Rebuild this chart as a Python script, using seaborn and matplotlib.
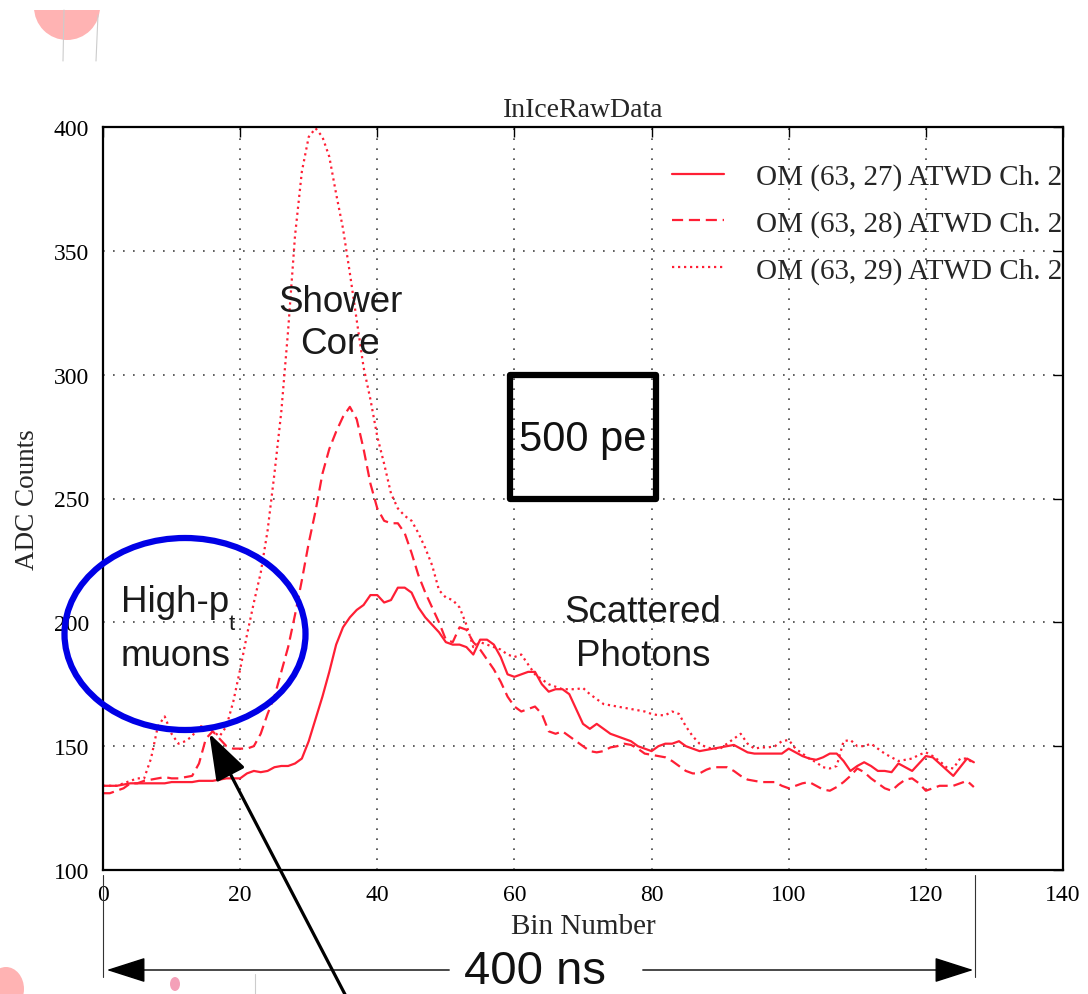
import numpy as np
import pandas as pd
import matplotlib
matplotlib.use("Agg")
import matplotlib.pyplot as plt
import seaborn as sns
from matplotlib.patches import Ellipse, Rectangle, FancyArrowPatch
from matplotlib.lines import Line2D

# ATWD channel-2 waveforms, 128 samples each
bins = np.arange(128)

om27 = [134, 134, 134, 134.5, 135, 135, 135, 135, 135, 135,
        135.5, 135.5, 135.5, 135.5, 136, 136, 136, 136.5, 137, 137,
        137, 139, 140, 139.5, 140, 141.5, 142, 142, 143, 145,
        152, 161, 170, 180, 191, 198, 202, 205, 207, 211,
        211, 208, 209, 214, 214, 212, 206, 202, 199, 196,
        192, 191, 191, 190, 187, 193, 193, 191, 186, 179,
        178, 179, 180, 180, 175, 172, 173, 173, 171, 165,
        159, 157, 159, 157, 155, 154, 153, 152, 150, 149,
        148, 150, 151, 151, 152, 150, 149, 148, 148.5, 149,
        149.5, 150, 150.5, 149, 147.5, 147, 147, 147, 147, 147,
        149, 147.5, 146, 145, 144.5, 145.5, 147, 147, 144, 140,
        142, 143.5, 142, 140, 140, 139.5, 143, 141.5, 140, 143,
        146, 145.5, 143, 140.5, 138, 141.5, 145, 143.5]

om28 = [131, 131, 132, 133, 135, 135, 136, 136.5, 137, 137.5,
        137, 137, 137.5, 138, 143, 153, 156, 153, 150, 149,
        149, 149, 150, 155, 163, 170, 180, 190, 203, 217,
        232, 245, 260, 270, 277, 283, 287, 282, 270, 256,
        246, 241, 240, 240, 236, 228, 219, 212, 206, 200,
        193, 192, 198, 197, 192, 189, 185, 181, 176, 170,
        166, 164, 165, 166, 163, 156, 155, 156, 154, 152,
        150, 148, 147.5, 148, 149.5, 150, 151, 150.5, 149, 147,
        146.5, 146, 145.5, 144, 142, 140, 139, 139, 140.5, 141.5,
        141.5, 141.5, 140, 138, 136.5, 136, 135.5, 135.5, 135.5, 134,
        133, 134, 135, 135.5, 134, 132.5, 132, 133.5, 135.5, 138,
        141, 139.5, 137, 135, 133, 132, 134.5, 136.5, 137, 135,
        132, 133, 134, 134, 134, 135, 136, 133.5]

om29 = [134, 134, 134, 135, 136, 137, 137, 145, 158, 162,
        155, 151, 152, 154, 158, 158, 156, 154, 158, 168,
        181, 195, 208, 220, 237, 260, 285, 318, 356, 382,
        396, 399.5, 396, 388, 373, 359, 341, 322, 303, 290,
        275, 264, 252, 246, 243, 241, 236, 230, 223, 213,
        210, 209, 206, 199, 190, 192, 191, 190, 189, 187,
        186, 187, 183, 179, 177, 175, 174, 173, 173, 173,
        173.5, 171, 169, 167, 166.5, 166, 165.5, 165, 164.5, 164,
        163, 162.5, 162.5, 164, 163, 158, 154, 151, 149.5, 149,
        149, 151, 153, 155, 151, 149, 149.5, 149.5, 150, 152,
        152.5, 149, 147, 145, 143.5, 141.5, 141, 142, 152, 152.5,
        150, 150, 151, 149, 147, 145.5, 144, 144.5, 145, 146.5,
        147.5, 146, 144, 141.5, 141, 145, 145, 143]

labels = ["OM (63, 27) ATWD Ch. 2",
          "OM (63, 28) ATWD Ch. 2",
          "OM (63, 29) ATWD Ch. 2"]

x_ticks = [0, 20, 40, 60, 80, 100, 120, 140]
y_ticks = [100, 150, 200, 250, 300, 350, 400]

sns.set_style("white")
plt.rcParams['font.family'] = ['Liberation Serif', 'DejaVu Serif']

W, H = 1088, 995
fig = plt.figure(figsize=(W / 100, H / 100), dpi=100)
ax = fig.add_axes([103 / W, 1 - 871 / H, 960 / W, 743 / H])

RED = "#ff1f35"
dash_patterns = [None, (5, 2.6), (1, 1.7)]
for vals, lab, dp in zip([om27, om28, om29], labels, dash_patterns):
    sns.lineplot(x=bins, y=vals, ax=ax, color=RED, linewidth=1.6, label=lab)
    if dp is not None:
        ax.lines[-1].set_dashes(dp)

ax.set_xlim(0, 140)
ax.set_ylim(100, 400)
ax.set_xticks(x_ticks)
ax.set_yticks(y_ticks)
ax.tick_params(direction="in", length=7, width=1, top=True, right=True,
               labelsize=17, pad=10, colors="black")
for s in ax.spines.values():
    s.set_color("black")
    s.set_linewidth(1.6)
ax.grid(True, color="#444444", linewidth=1.2)
for gl in ax.get_xgridlines() + ax.get_ygridlines():
    gl.set_dashes((1, 5))

ax.set_xlabel("Bin Number", fontsize=21, labelpad=6)
ax.set_ylabel("ADC Counts", fontsize=19.5, labelpad=10)
ax.set_title("InIceRawData", fontsize=20, pad=8)

leg = ax.legend(loc="upper right", bbox_to_anchor=(1.0 + 10.7 / 960, 0.967), frameon=False,
                fontsize=21, handlelength=1.78, handletextpad=1.1,
                labelspacing=0.68, borderaxespad=0.0)


def fx(px):
    return px / W


def fy(py):
    return 1 - py / H


SANS = ["Liberation Sans", "DejaVu Sans"]
INK = "#1a1a1a"

# callouts
fig.text(fx(340), fy(302), "Shower", fontsize=26.5, family=SANS, ha="center", va="center", color=INK)
fig.text(fx(340), fy(345), "Core", fontsize=26.5, family=SANS, ha="center", va="center", color=INK)
fig.text(fx(643), fy(613), "Scattered", fontsize=26.5, family=SANS, ha="center", va="center", color=INK)
fig.text(fx(643), fy(657), "Photons", fontsize=26.5, family=SANS, ha="center", va="center", color=INK)
fig.text(fx(121), fy(602), "High-p", fontsize=26.5, family=SANS, ha="left", va="center", color=INK)
fig.text(fx(229), fy(624), "t", fontsize=16, family=SANS, ha="left", va="center", color=INK)
fig.text(fx(121), fy(657), "muons", fontsize=26.5, family=SANS, ha="left", va="center", color=INK)

# 500 pe box
ax.add_patch(Rectangle((59.4, 250), 21.2, 50, fill=False, edgecolor="black",
                       linewidth=4.5, clip_on=False, zorder=5, joinstyle="round"))
ax.text(70, 274, "500 pe", fontsize=30, family=SANS, ha="center", va="center", color="#111111")

# blue ellipse
fig.add_artist(Ellipse((fx(185), fy(635)), 241 / W, 192 / H, transform=fig.transFigure,
                       fill=False, edgecolor="#0000e6", linewidth=4.5))

# arrow pointing at the early pulses
fig.add_artist(FancyArrowPatch((fx(350), fy(1005)), (fx(208), fy(732)),
                               transform=fig.transFigure,
                               arrowstyle="-|>,head_length=2.9,head_width=1.0",
                               mutation_scale=10, color="black", linewidth=2.3))

# 400 ns span
for xx in (103, 975):
    fig.add_artist(Line2D([fx(xx), fx(xx)], [fy(876), fy(978)], transform=fig.transFigure,
                          color="#333333", linewidth=0.8))
fig.add_artist(FancyArrowPatch((fx(452), fy(971)), (fx(104), fy(971)), transform=fig.transFigure,
                               arrowstyle="-|>,head_length=2.5,head_width=0.8",
                               mutation_scale=10, color="black", linewidth=1.0))
fig.add_artist(FancyArrowPatch((fx(640), fy(971)), (fx(976), fy(971)), transform=fig.transFigure,
                               arrowstyle="-|>,head_length=2.5,head_width=0.8",
                               mutation_scale=10, color="black", linewidth=1.0))
fig.text(fx(535), fy(972), "400 ns", fontsize=34, family=SANS, ha="center", va="center", color="#111111")

# slide fragments at the corners
fig.add_artist(Ellipse((fx(67), fy(8)), 66 / W, 66 / H, transform=fig.transFigure,
                       facecolor="#ffb3b3", edgecolor="none"))
fig.add_artist(Rectangle((fx(25), fy(11)), 100 / W, 11 / H, transform=fig.transFigure,
                         facecolor="white", edgecolor="none"))
for x0, x1, y0 in ((64, 63, 11), (98, 96, 16)):
    fig.add_artist(Line2D([fx(x0), fx(x1)], [fy(y0), fy(62)], transform=fig.transFigure,
                          color="#cccccc", linewidth=0.8))
fig.add_artist(Ellipse((fx(6), fy(990)), 36 / W, 44 / H, transform=fig.transFigure,
                       facecolor="#ffb3b3", edgecolor="none"))
fig.add_artist(Ellipse((fx(175), fy(985)), 10 / W, 14 / H, transform=fig.transFigure,
                       facecolor="#f4a0b8", edgecolor="none"))
fig.add_artist(Line2D([fx(255), fx(255)], [fy(975), fy(995)], transform=fig.transFigure,
                      color="#cccccc", linewidth=0.8))

fig.savefig("out.png", dpi=100)
